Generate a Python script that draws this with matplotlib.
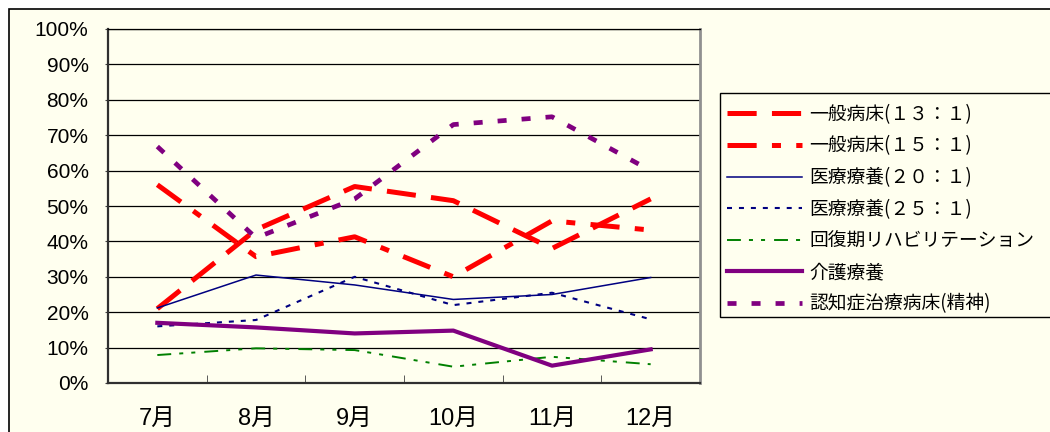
import matplotlib
matplotlib.use("Agg")
import matplotlib.pyplot as plt
from matplotlib.patches import Rectangle

plt.rcParams['font.family'] = ['Liberation Sans', 'Noto Sans CJK JP', 'DejaVu Sans']
plt.rcParams['lines.scale_dashes'] = False

# data (percent)
months = ['7月', '8月', '9月', '10月', '11月', '12月']
ippan13 = [21, 43.3, 55.5, 51.5, 38, 52]
ippan15 = [56, 35.7, 41.3, 30, 45.8, 43.2]
iryo20 = [21.2, 30.5, 27.7, 23.6, 25, 29.8]
iryo25 = [16, 17.8, 30, 22, 25.5, 18]
kaifuku = [7.9, 9.8, 9.3, 4.6, 7.4, 5.3]
kaigo = [17, 15.7, 14, 14.8, 4.9, 9.5]
ninchi = [66.8, 41, 52, 73, 75.2, 60]

labels = ['一般病床(１３：１)', '一般病床(１５：１)', '医療療養(２０：１)', '医療療養(２５：１)',
          '回復期リハビリテーション', '介護療養', '認知症治療病床(精神)']

cream = '#FFFFEF'
fig = plt.figure(figsize=(10.5, 4.32), dpi=100, facecolor='white')
# chart area border
fig.patches.append(Rectangle((9/1050, -0.1), 1.2, 1 - 9/432 + 0.1, transform=fig.transFigure,
                             facecolor=cream, edgecolor='black', lw=1.2, zorder=-10))

ax = fig.add_axes([108/1050, 49/432, 592/1050, 354/432])
ax.set_facecolor(cream)

x = list(range(len(months)))
ax.plot(x, ippan13, color='red', lw=3.6, dashes=(21, 11), label=labels[0])
ax.plot(x, ippan15, color='red', lw=3.6, dashes=(21, 11, 6.5, 11), label=labels[1])
ax.plot(x, iryo20, color='#000080', lw=1.1, label=labels[2])
ax.plot(x, iryo25, color='#000080', lw=1.5, dashes=(3.6, 5), label=labels[3])
ax.plot(x, kaifuku, color='green', lw=1.4, dashes=(10, 5.8, 2.9, 5.8, 2.9, 6.5), label=labels[4])
ax.plot(x, kaigo, color='purple', lw=3, label=labels[5])
ax.plot(x, ninchi, color='purple', lw=3.4, dashes=(6.5, 10.8), label=labels[6])

ax.set_xlim(-0.5, len(months) - 0.5)
ax.set_ylim(0, 100)
ax.set_yticks(range(0, 101, 10))
ax.set_yticklabels([f'{v}%' for v in range(0, 101, 10)], fontsize=15)
ax.yaxis.grid(True, color='black', lw=0.9)
ax.set_axisbelow(True)
ax.tick_params(axis='y', length=2, pad=12, color='#404040')

ax.set_xticks(x)
ax.set_xticklabels(months, fontsize=17)
ax.set_xticks([i - 0.5 for i in range(len(months) + 1)], minor=True)
ax.tick_params(axis='x', which='major', length=0, pad=18)
ax.tick_params(axis='x', which='minor', direction='in', length=6, color='#404040')

for s in ['left', 'bottom']:
    ax.spines[s].set_color('#303030')
    ax.spines[s].set_linewidth(1.6)
ax.spines['right'].set_color('#909090')
ax.spines['right'].set_linewidth(2)
ax.spines['top'].set_color('black')
ax.spines['top'].set_linewidth(0.9)

# legend box
fig.patches.append(Rectangle((720/1050, 1 - 317/432), 0.4, 224/432, transform=fig.transFigure,
                             facecolor=cream, edgecolor='black', lw=1.0, zorder=1))
leg = fig.legend(loc='upper left', bbox_to_anchor=(727/1050, 1 - 104/432), frameon=False,
                 prop={'family': ['Noto Sans CJK JP'], 'size': 13.5}, handlelength=4.0,
                 handletextpad=0.4, labelspacing=0.565, borderpad=0, borderaxespad=0)

fig.savefig('out.png', dpi=100, facecolor=fig.get_facecolor())
